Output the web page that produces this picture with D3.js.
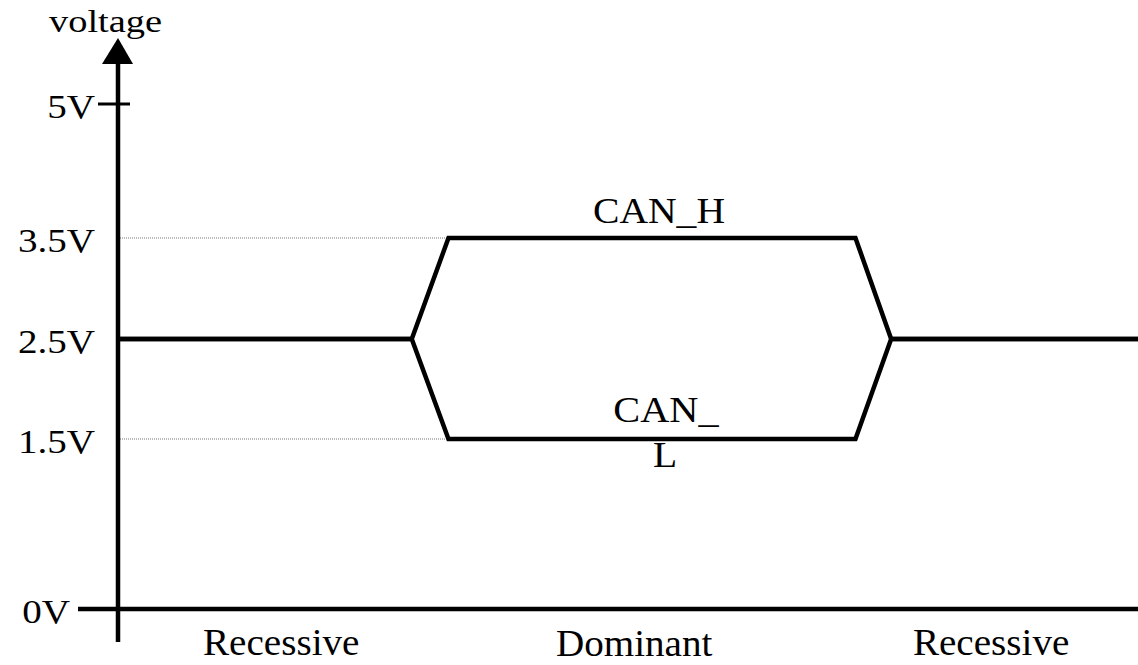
<!DOCTYPE html>
<html>
<head>
<meta charset="utf-8">
<script src="https://cdn.jsdelivr.net/npm/d3@7"></script>
<style>
  body { margin: 0; background: #fff; }
  text { font-family: "Liberation Serif", "Times New Roman", serif; fill: #000; }
</style>
</head>
<body>
<div class="chart"></div>
<script>
// bus levels (V) and their labels
const levels = [0, 1.5, 2.5, 3.5, 5]
const levelLabels = ["0V", "1.5V", "2.5V", "3.5V", "5V"]

// time in bit units
const times = [0, 2.88, 3.24, 7.23, 7.58, 10]
const canH = [2.5, 2.5, 3.5, 3.5, 2.5, 2.5]
const canL = [2.5, 2.5, 1.5, 1.5, 2.5, 2.5]

// bus states along the time axis
const states = ["Recessive", "Dominant", "Recessive"]
const stateCenters = [1.6, 5.06, 8.56]

const width = 1138
const height = 665

const svg = d3.select(".chart").append("svg")
  .attr("width", width)
  .attr("height", height)

const x = d3.scaleLinear().domain([0, 10]).range([118, 1138])
// schematic, not to scale: piecewise axis
const y = d3.scaleLinear().domain(levels).range([609, 439, 339, 238, 104])

// text with a small horizontal stretch like the original figure
function label(g, str, px, py, size, sx, anchor) {
  return g.append("text")
    .attr("transform", `translate(${px},${py}) scale(${sx},1)`)
    .attr("text-anchor", anchor || "start")
    .attr("font-size", size)
    .text(str)
}

// dotted guides for 3.5V and 1.5V
svg.selectAll(".guide")
  .data([3.5, 1.5])
  .join("line")
  .attr("class", "guide")
  .attr("x1", x(0))
  .attr("x2", x(times[2]))
  .attr("y1", (d) => y(d))
  .attr("y2", (d) => y(d))
  .attr("stroke", "#777")
  .attr("stroke-width", 1)
  .attr("stroke-dasharray", "1,1")

// axes
svg.append("line")
  .attr("x1", 78).attr("x2", width)
  .attr("y1", y(0)).attr("y2", y(0))
  .attr("stroke", "#000").attr("stroke-width", 4.5)

svg.append("line")
  .attr("x1", x(0)).attr("x2", x(0))
  .attr("y1", 642).attr("y2", 60)
  .attr("stroke", "#000").attr("stroke-width", 4.5)

// arrow head
svg.append("path")
  .attr("d", `M${x(0)},38 L${x(0) - 16},64 L${x(0) + 15},64 Z`)
  .attr("fill", "#000")

// 5V tick
svg.append("line")
  .attr("x1", 98).attr("x2", 130)
  .attr("y1", y(5)).attr("y2", y(5))
  .attr("stroke", "#000").attr("stroke-width", 3)

// level labels
levels.forEach((v, i) => {
  const endX = v === 0 ? 70 : 95
  label(svg, levelLabels[i], endX, y(v) + 14, 34, 1.15, "end")
})

label(svg, "voltage", 49, 32, 32, 1.2)

// signals
const line = d3.line()
  .x((d) => x(d[0]))
  .y((d) => y(d[1]))

;[canH, canL].forEach((s) => {
  svg.append("path")
    .datum(times.map((t, i) => [t, s[i]]))
    .attr("d", line)
    .attr("fill", "none")
    .attr("stroke", "#000")
    .attr("stroke-width", 4.5)
    .attr("stroke-linejoin", "miter")
})

// signal names
label(svg, "CAN_H", 659, y(3.5) - 15, 36, 1.1, "middle")
label(svg, "CAN_", 666, y(1.5) - 17, 36, 1.12, "middle")
label(svg, "L", 665, y(1.5) + 28, 36, 1.1, "middle")

// bus states
states.forEach((s, i) => {
  label(svg, s, x(stateCenters[i]), i === 1 ? 656 : 655, 38, 1.03, "middle")
})
</script>
</body>
</html>
